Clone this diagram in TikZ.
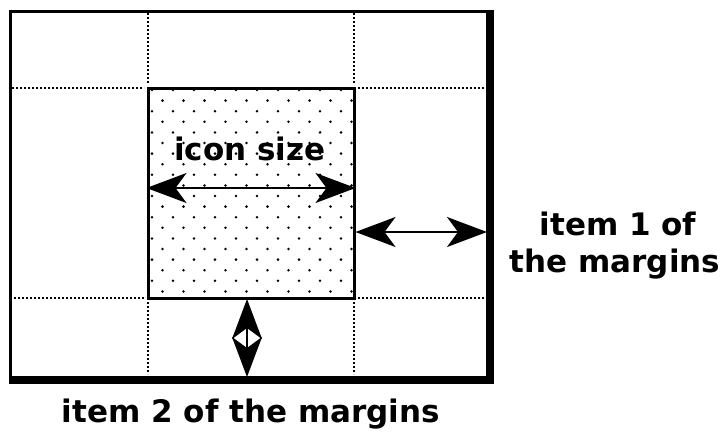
\documentclass[tikz,border=0pt]{standalone}
\usepackage{fontspec}
\setmainfont{DejaVu Sans}
\usetikzlibrary{arrows.meta}
\tikzset{
  gridline/.style={line width=2.4pt, dash pattern=on 2.2pt off 1.8pt},
  dimarrow/.style={line width=1.8pt, {Stealth[length=40pt,width=30pt,inset=11pt]}-{Stealth[length=40pt,width=30pt,inset=11pt]}},
  label/.style={font=\fontsize{31}{37}\selectfont\bfseries, inner sep=0pt},
}
\begin{document}
\begin{tikzpicture}[x=1pt,y=-1pt]
\useasboundingbox (0,0) rectangle (726,434);
% dotted fill of icon area
\foreach \k in {0,...,19} {
  \pgfmathsetmacro{\yy}{90+10.6*\k}
  \pgfmathsetmacro{\off}{mod(\k,2)*10.5}
  \foreach \j in {0,...,9} {
    \pgfmathsetmacro{\xx}{152+21*\j+\off}
    \ifdim \xx pt<352pt \fill (\xx,\yy) circle (1.4); \fi
  }
}
% icon box
\node[draw, line width=3pt, minimum width=206pt, minimum height=210pt, inner sep=0pt] (icon) at (251,193) {};
% frame
\draw[line width=3pt] (10,11) rectangle (490,380);
\fill (486,9.5) rectangle (494,384);
\fill (8.5,376) rectangle (494,384);
% dotted grid lines
\draw[gridline] (148,13) -- (148,84);
\draw[gridline] (354,13) -- (354,84);
\draw[gridline] (12,88) -- (144,88);
\draw[gridline] (358,88) -- (484,88);
\draw[gridline] (14,298) -- (144,298);
\draw[gridline] (358,298) -- (484,298);
\draw[gridline] (148,302) -- (148,374);
\draw[gridline] (354,302) -- (354,374);
% arrow anchor coordinates
\coordinate (isL) at (icon.west |- 0,188);
\coordinate (isR) at (icon.east |- 0,188);
\coordinate (m1L) at (icon.east |- 0,232);
\coordinate (m1R) at (487,232);
\coordinate (m2T) at (247,299);
\coordinate (m2B) at (247,377);
\draw[dimarrow] (isL) -- (isR);
\draw[dimarrow] (m1L) -- (m1R);
\draw[dimarrow] (m2T) -- (m2B);
% labels
\node[label, anchor=base] (lsize) at (250,160) {icon size};
\node[label, anchor=base] (l1a) at (618,235) {item 1 of};
\node[label, anchor=base] (l1b) at (615,272) {the margins};
\node[label, anchor=base] (l2) at (251,422) {item 2 of the margins};
\end{tikzpicture}
\end{document}
